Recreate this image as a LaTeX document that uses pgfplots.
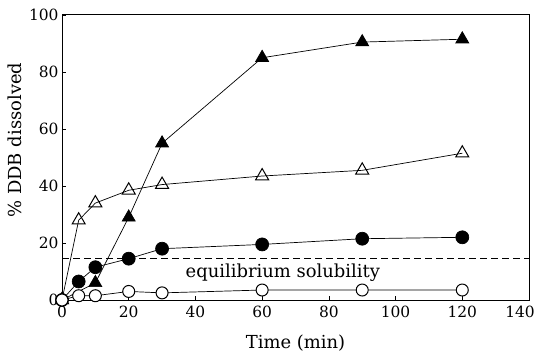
\documentclass[border=0pt]{standalone}
\usepackage{fontspec}
\setmainfont{DejaVu Serif}
\usepackage{pgfplots}
\pgfplotsset{compat=1.18}
\begin{document}
\begin{tikzpicture}
\begin{axis}[
  scale only axis, width=467bp, height=285bp,
  xmin=0, xmax=140, ymin=0, ymax=100,
  xtick={0,20,...,140}, ytick={0,20,...,100},
  xticklabels={0,20,40,60,80,100,120,{\hspace*{-18bp}140}},
  tick pos=left,
  tick align=inside, major tick length=4bp,
  tick style={black, line width=0.7pt},
  axis line style={line width=1pt},
  /pgf/number format/assume math mode=true,
  ticklabel style={font=\fontsize{15.5}{17}\selectfont},
  xticklabel style={yshift=-3bp},
  label style={font=\fontsize{18}{20}\selectfont},
  xlabel={Time (min)}, ylabel={\% DDB dissolved},
  xlabel style={at={(axis description cs:0.5,-0.151)}, anchor=center},
  ylabel style={at={(axis description cs:-0.1006,0.561)}, anchor=center},
  clip=false,
]
\addplot[black, line width=0.7pt, mark=triangle*, mark size=7.5bp, mark options={solid, fill=black}]
 coordinates {(0,0) (10,6) (20,29) (30,55) (60,85) (90,90.5) (120,91.5)};
\addplot[black, line width=0.7pt, mark=triangle, mark size=7.5bp, mark options={solid, fill=white, line width=1pt}]
 coordinates {(0,0) (5,28) (10,34) (20,38.5) (30,40.5) (60,43.5) (90,45.5) (120,51.5)};
\addplot[black, line width=0.7pt, mark=*, mark size=6.5bp, mark options={solid, fill=black}]
 coordinates {(0,0) (5,6.5) (10,11.5) (20,14.5) (30,18) (60,19.5) (90,21.5) (120,22)};
\addplot[black, line width=0.7pt, mark=*, mark size=6bp, mark options={solid, fill=white, line width=1pt},
  error bars/.cd, y dir=minus, y explicit, error bar style={line width=0.7pt}, error mark=none]
 coordinates {(0,0) +- (0,0) (5,1.5) +- (0,0) (10,1.5) +- (0,0) (20,3) +- (0,2) (30,2.5) +- (0,0) (60,3.5) +- (0,3) (90,3.5) +- (0,0) (120,3.5) +- (0,3)};
\addplot[black, line width=0.8pt, dash pattern=on 7bp off 4bp] coordinates {(0,14.5) (140,14.5)};
\node[font=\fontsize{18}{20}\selectfont] at (axis cs:66.2,9.6) {equilibrium solubility};
\end{axis}
\pgfresetboundingbox
\path[use as bounding box] ([shift={(-62bp,-57bp)}]current axis.south west) rectangle ([shift={(5bp,15bp)}]current axis.north east);
\end{tikzpicture}
\end{document}
